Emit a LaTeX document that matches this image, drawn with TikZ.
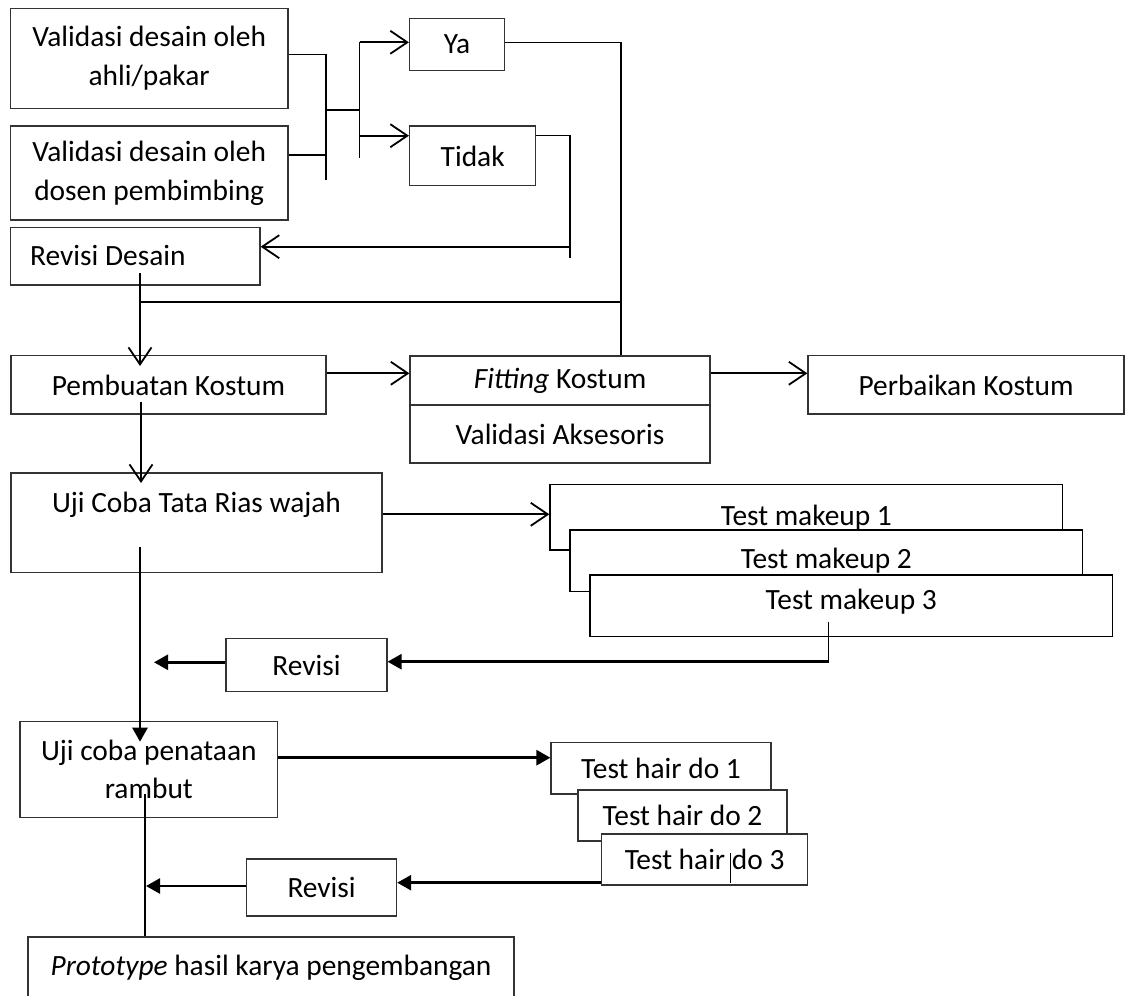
\documentclass[tikz,border=0pt]{standalone}
\usepackage{fontspec}
\setmainfont{Carlito}
\usetikzlibrary{arrows.meta}

\begin{document}
\begin{tikzpicture}[x=1pt,y=-1pt,
  box/.style={draw=black!80,line width=1.2pt,fill=white,inner sep=0pt,align=center,
    font=\fontsize{29.4}{38.7}\selectfont},
  txt/.style={inner sep=0pt,font=\fontsize{29.4}{38.7}\selectfont},
  link/.style={line width=1.3pt},
  barb/.style={line width=2pt,-{Straight Barb[length=17pt,width=23pt,line width=1.8pt]}},
  tri/.style={line width=2.6pt,-{Triangle[length=14pt,width=15pt]}}]
\useasboundingbox (0,0) rectangle (1125,996);
\clip (0,0) rectangle (1125,996);
%%
  % Node: valA
  \node[box,minimum width=277.7pt,minimum height=100pt] (valA) at (149.2,58.3) {Validasi desain oleh\\ahli/pakar};
  % Node: valB
  \node[box,minimum width=277.7pt,minimum height=94pt] (valB) at (149.2,173) {Validasi desain oleh\\dosen pembimbing};
  % Node: revdes
  \node[box,minimum width=249.7pt,minimum height=57.3pt] (revdes) at (135.2,256.4) {};
  \node[txt,anchor=west] (revdesTxt) at ([xshift=20.3pt,yshift=1pt]revdes.west) {Revisi Desain};
  % Node: ya
  \node[box,minimum width=95pt,minimum height=52.4pt] (ya) at (457,44.5) {Ya};
  % Node: tidak
  \node[box,minimum width=126.3pt,minimum height=59.7pt] (tidak) at (472.7,155.9) {Tidak};
  % Node: buat
  \node[box,minimum width=315pt,minimum height=58.3pt] (buat) at (168.5,384.9) {Pembuatan Kostum};
  % Node: fitting
  \node[box,minimum width=300pt,minimum height=49pt] (fitting) at (560,380.5) {\textit{Fitting} Kostum};
  % Node: aksesoris
  \node[box,minimum width=300pt,minimum height=58pt] (aksesoris) at (560,434) {Validasi Aksesoris};
  % Node: fix
  \node[box,minimum width=316pt,minimum height=58.3pt] (fix) at (966,384.9) {Perbaikan Kostum};
  % Node: rias
  \node[box,minimum width=371pt,minimum height=99.7pt] (rias) at (196.5,522.9) {};
  \node[txt] (riasTxt) at ([yshift=18pt]rias.center) {Uji Coba Tata Rias wajah};
  % Node: mk1, mk2, mk3
  \node[box,draw=black,minimum width=512.7pt,minimum height=65.7pt] (mk1) at (806.3,517.2) {Test makeup 1};
  \node[box,draw=black,minimum width=512.7pt,minimum height=61.7pt] (mk2) at (826.3,560.8) {Test makeup 2};
  \node[box,draw=black,minimum width=522.3pt,minimum height=61.7pt,text depth=14pt] (mk3) at (851.2,605.8) {Test makeup 3};
  % Node: rev1
  \node[box,minimum width=161pt,minimum height=53.4pt] (rev1) at (306.5,665) {Revisi};
  % Node: rambut
  \node[box,minimum width=257.5pt,minimum height=95.6pt,font=\fontsize{29.4}{37.3}\selectfont] (rambut) at (148.8,769.5) {Uji coba penataan\\rambut};
  % Node: hair1, hair2, hair3
  \node[box,minimum width=220pt,minimum height=51.3pt] (hair1) at (661,768.3) {Test hair do 1};
  \node[box,minimum width=209pt,minimum height=51pt] (hair2) at (682.5,815.5) {Test hair do 2};
  \node[box,minimum width=206pt,minimum height=51pt] (hair3) at (704.6,859.5) {Test hair do 3};
  \draw[line width=1pt] (730.6,853) -- (730.6,882.7);
  % Node: rev2
  \node[box,minimum width=150pt,minimum height=57pt] (rev2) at (321.6,887.5) {Revisi};
  % Node: proto
  \node[box,minimum width=486pt,minimum height=62pt] (proto) at (271,968) {\textit{Prototype} hasil karya pengembangan};
%%
  % Edge: valA, valB -> fork
  \coordinate (barEnd) at (326,180);
  \draw[link] ([yshift=4pt]valA.east) -| (barEnd);
  \draw[link] ([yshift=18pt]valB.east) -| (barEnd);
  \coordinate (fork) at (359.7,110);
  \coordinate (forkTop) at (359.7,42.3);
  \coordinate (forkMid) at (359.7,135.7);
  \coordinate (forkBot) at (359.7,157.7);
  \draw[link] (fork -| barEnd) -- (fork);
  \draw[link] (forkTop) -- (forkBot);
  % Edge: fork -> ya, tidak
  \draw[barb] (forkTop) -- (forkTop -| ya.west);
  \draw[barb] (forkMid) -- (forkMid -| tidak.west);
  % Edge: ya -> fitting
  \coordinate (yaBend) at (621,42.3);
  \draw[link] (ya.east |- yaBend) -- (yaBend) -- (yaBend |- fitting.north);
  % Edge: tidak -> revdes
  \coordinate (tidakBend) at (570,135.7);
  \coordinate (tidakEnd) at (570,258.3);
  \coordinate (tidakBack) at (570,246.7);
  \draw[link] (tidak.east |- tidakBend) -- (tidakBend) -- (tidakEnd);
  \draw[barb] (tidakBack) -- (tidakBack -| revdes.east);
  % Edge: revdes -> buat
  \coordinate (rdFoot) at (140,273.3);
  \coordinate (rdJoin) at (140,302);
  \coordinate (buatTip) at (140,366);
  \draw[barb] (rdFoot) -- (buatTip);
  \draw[link] (rdJoin) -- (rdJoin -| yaBend);
  % Edge: buat -> fitting -> fix
  \draw[barb] ([yshift=11.6pt]buat.east) coordinate (bf) -- (bf -| fitting.west);
  \draw[barb] ([yshift=7.2pt]fitting.east) coordinate (fp) -- (fp -| fix.west);
  % Edge: buat -> rias
  \coordinate (buatFoot) at (141,401.7);
  \coordinate (riasTip) at (141,483);
  \draw[barb] (buatFoot) -- (riasTip);
  % Edge: rias -> mk1
  \draw[barb] ([yshift=8.6pt]rias.east) coordinate (rm) -- (rm -| mk1.west);
  % Edge: mk3 -> rev1 -> main line
  \coordinate (mkDrop) at (828.6,621.7);
  \coordinate (mkBend) at (828.6,661.7);
  \coordinate (rev1Tip) at (154,662.3);
  \draw[link] (mkDrop) -- (mkBend);
  \draw[tri] (mkBend) -- (mkBend -| rev1.east);
  \draw[tri] (rev1.west |- rev1Tip) -- (rev1Tip);
  % Edge: rias -> rambut
  \coordinate (riasFoot) at (140,547.3);
  \coordinate (rambutTip) at (140,741.7);
  \draw[tri] (riasFoot) -- (rambutTip);
  % Edge: rambut -> hair1
  \draw[tri] ([yshift=11.8pt]rambut.east) coordinate (rh) -- (rh -| hair1.west);
  % Edge: hair3 -> rev2 -> main line
  \coordinate (rev2Tip) at (146,886);
  \draw[tri] ([yshift=-23.2pt]hair3.west) coordinate (hr) -- (hr -| rev2.east);
  \draw[tri] (rev2.west |- rev2Tip) -- (rev2Tip);
  % Edge: rambut -> proto
  \coordinate (rambutFoot) at (144.7,794);
  \draw[line width=2pt] (rambutFoot) -- (rambutFoot |- proto.north);
%
\end{tikzpicture}
\end{document}
